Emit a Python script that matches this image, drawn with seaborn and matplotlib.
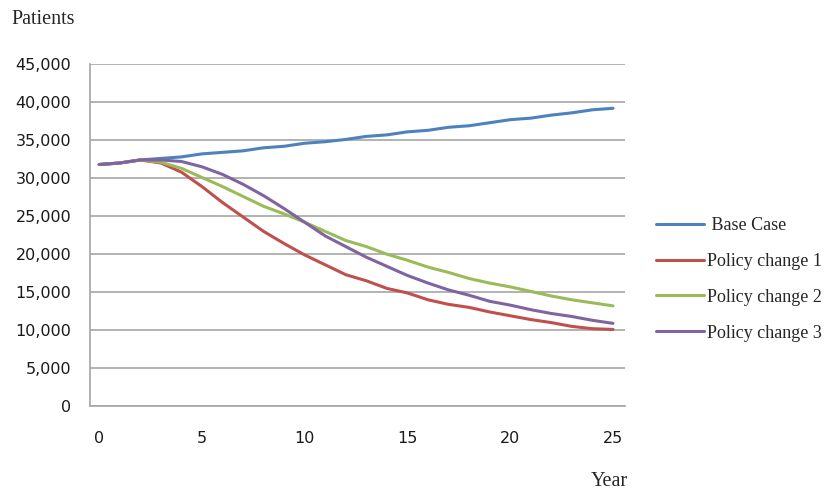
import numpy as np
import pandas as pd
import matplotlib
matplotlib.use("Agg")
import matplotlib.pyplot as plt
import seaborn as sns

# =========================
# DATA
# =========================
years = list(range(26))

base_case = [31800, 32000, 32400, 32600, 32800, 33200, 33400, 33600, 34000, 34200,
             34600, 34800, 35100, 35500, 35700, 36100, 36300, 36700, 36900, 37300,
             37700, 37900, 38300, 38600, 39000, 39200]
policy_1 = [31800, 32000, 32400, 32000, 30800, 28900, 26800, 24900, 23000, 21400,
            19900, 18600, 17300, 16500, 15500, 14900, 14000, 13400, 13000, 12400,
            11900, 11400, 11000, 10500, 10200, 10100]
policy_2 = [31800, 32000, 32400, 32100, 31300, 30100, 28900, 27600, 26300, 25300,
            24200, 23000, 21800, 21000, 20000, 19200, 18300, 17600, 16800, 16200,
            15700, 15100, 14500, 14000, 13600, 13200]
policy_3 = [31800, 32000, 32400, 32400, 32200, 31500, 30500, 29200, 27700, 26000,
            24200, 22400, 21000, 19600, 18400, 17200, 16200, 15300, 14600, 13800,
            13300, 12700, 12200, 11800, 11300, 10900]

series_names = [" Base Case", "Policy change 1", "Policy change 2", "Policy change 3"]
series_colors = ["#4F81BD", "#C0504D", "#9BBB59", "#8064A2"]

y_ticks = list(range(0, 45001, 5000))
x_ticks = [0, 5, 10, 15, 20, 25]

df = pd.DataFrame({
    "Year": years * 4,
    "Patients": base_case + policy_1 + policy_2 + policy_3,
    "Scenario": np.repeat(series_names, len(years)),
})

# =========================
# PLOT
# =========================
sns.set_style("white")
plt.rcParams["font.family"] = ["Liberation Serif", "DejaVu Serif"]
TICK_FONT = ["DejaVu Sans"]

fig = plt.figure(figsize=(8.25, 4.9), dpi=100)
ax = fig.add_axes([0.109, 0.171, 0.649, 0.698])

sns.lineplot(data=df, x="Year", y="Patients", hue="Scenario",
             palette=dict(zip(series_names, series_colors)),
             linewidth=2.2, ax=ax)

ax.set_xlim(-0.45, 25.6)
ax.set_ylim(0, 45000)
ax.set_yticks(y_ticks)
ax.set_yticklabels([f"{v:,}" for v in y_ticks], family=TICK_FONT, fontsize=11.5)
ax.set_xticks(x_ticks)
ax.set_xticklabels([str(v) for v in x_ticks], family=TICK_FONT, fontsize=11.5)
ax.set_xlabel("")
ax.set_ylabel("")
ax.yaxis.grid(True, color="#A6A6A6", linewidth=1.2)
ax.xaxis.grid(False)
ax.tick_params(axis="both", length=0, colors="#1a1a1a")
ax.tick_params(axis="y", pad=13.5)
ax.tick_params(axis="x", pad=18)

for side in ["top", "right"]:
    ax.spines[side].set_visible(False)
for side in ["left", "bottom"]:
    ax.spines[side].set_color("#A6A6A6")
    ax.spines[side].set_linewidth(1.2)

fig.text(0.014, 0.96, "Patients", fontsize=14.5, va="center", ha="left")
fig.text(0.761, 0.018, "Year", fontsize=14.5, va="center", ha="right")

leg = ax.legend(loc="center left", bbox_to_anchor=(0.775, 0.43),
                bbox_transform=fig.transFigure, frameon=False,
                fontsize=13, handlelength=2.7, handletextpad=0.15,
                labelspacing=1.05)
for line in leg.get_lines():
    line.set_linewidth(2.2)

fig.savefig("out.png", dpi=100)
plt.close(fig)
